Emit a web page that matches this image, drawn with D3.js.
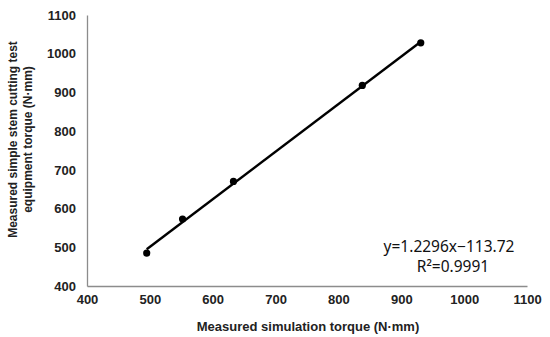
<!DOCTYPE html>
<html>
<head>
<meta charset="utf-8">
<script src="https://cdn.jsdelivr.net/npm/d3@7"></script>
<style>
  body { margin: 0; background: #fff; }
  svg text { font-family: "Liberation Sans", Arial, sans-serif; }
</style>
</head>
<body>
<div id="chart-area"></div>
<script>
// measured points
var simTorque = [495, 552, 633, 838, 931];
var testTorque = [485, 573, 670, 918, 1028];
// fitted line
var slope = 1.2296, intercept = -113.72;
var eqLabel = "y=1.2296x\u2212113.72";
var r2Label = "R\u00b2=0.9991";
var ticks = [400, 500, 600, 700, 800, 900, 1000, 1100];

var margin = {top: 15, right: 23, bottom: 51, left: 87},
  width = 550 - margin.left - margin.right,
  height = 337 - margin.top - margin.bottom;

var x = d3.scaleLinear().domain([400, 1100]).range([0, width]);
var y = d3.scaleLinear().domain([400, 1100]).range([height, 0]);

var svg = d3.select("#chart-area").append("svg")
  .attr("width", 550)
  .attr("height", 337)
  .append("g")
  .attr("transform", "translate(" + margin.left + "," + margin.top + ")");

// axes
var xAxis = svg.append("g")
  .attr("transform", "translate(0," + height + ")")
  .call(d3.axisBottom(x).tickValues(ticks).tickFormat(d3.format("d")).tickSize(0).tickPadding(9));
var yAxis = svg.append("g")
  .call(d3.axisLeft(y).tickValues(ticks).tickFormat(d3.format("d")).tickSize(0).tickPadding(11));

[xAxis, yAxis].forEach(function (g) {
  g.select(".domain").attr("stroke", "#8c8c8c").attr("stroke-width", 1.3);
  g.selectAll("text")
    .attr("fill", "#222")
    .style("font-size", "13px")
    .style("font-weight", "bold");
});

// trend line
var x0 = d3.min(simTorque), x1 = d3.max(simTorque);
svg.append("line")
  .attr("x1", x(x0)).attr("y1", y(slope * x0 + intercept))
  .attr("x2", x(x1)).attr("y2", y(slope * x1 + intercept))
  .attr("stroke", "#000")
  .attr("stroke-width", 2.4);

// points
svg.selectAll("circle.pt")
  .data(simTorque)
  .enter().append("circle")
  .attr("class", "pt")
  .attr("cx", function (d) { return x(d); })
  .attr("cy", function (d, i) { return y(testTorque[i]); })
  .attr("r", 3.6)
  .attr("fill", "#000");

// equation
var eq = svg.append("g")
  .attr("transform", "translate(" + (451 - margin.left) + "," + (252 - margin.top) + ")")
  .attr("fill", "#111")
  .attr("text-anchor", "middle");
eq.append("text").attr("x", -2).attr("y", 0)
  .style("font-family", "'Noto Sans', sans-serif").style("font-size", "15.5px").text(eqLabel);
eq.append("text").attr("x", 2).attr("y", 20)
  .style("font-family", "'Noto Sans', sans-serif").style("font-size", "15.5px").text(r2Label);

// axis titles
svg.append("text")
  .attr("x", width / 2 + 1)
  .attr("y", height + 45)
  .attr("text-anchor", "middle")
  .style("font-size", "13px")
  .style("font-weight", "bold")
  .attr("fill", "#222")
  .text("Measured simulation torque (N\u00b7mm)");

var yt = svg.append("text")
  .attr("transform", "translate(" + (-70) + "," + (height / 2 - 11) + ") rotate(-90)")
  .attr("text-anchor", "middle")
  .style("font-size", "12px")
  .style("font-weight", "bold")
  .attr("fill", "#222");
yt.append("tspan").attr("x", 0).attr("dy", 0).text("Measured simple stem cutting test");
yt.append("tspan").attr("x", 0).attr("dy", 15).text("equipment torque (N\u00b7mm)");
</script>
</body>
</html>
